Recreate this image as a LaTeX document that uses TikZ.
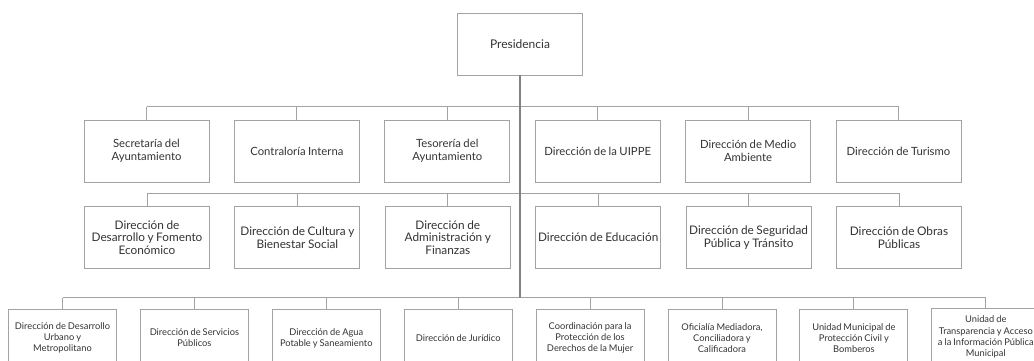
\documentclass[tikz,border=0pt]{standalone}
\usepackage{fontspec}
\setmainfont[WordSpace=0.85]{Lato}
\usepackage{tikz}
\usetikzlibrary{
  positioning
}
\definecolor{boxline}{HTML}{A3A3A3}
\definecolor{boxtext}{HTML}{333333}
\tikzset{
  x=1pt, y=-1pt,
  node distance=24.5pt,
  unit/.style={draw=boxline, line width=0.9pt, rectangle, minimum width=125pt,
    minimum height=62pt, align=center, inner sep=0pt,
    text=boxtext, font=\fontsize{11.3}{12.5}\selectfont},
  wide unit/.style={unit, font=\fontsize{11.8}{12.6}\selectfont},
  leaf/.style={unit, minimum width=108pt, minimum height=58pt,
    font=\fontsize{9.3}{11.1}\selectfont},
  link/.style={draw=boxline, line width=0.9pt},
  trunk/.style={draw=boxline!80!black, line width=1.2pt}
}

\begin{document}
\begin{tikzpicture}
    \useasboundingbox (0,0) rectangle (1034,360);
    \clip (0,0) rectangle (1034,360);

    \node[unit, font=\fontsize{12}{13}\selectfont] (pres) at (520,44) {Presidencia};

    \node[unit] (d1) at (146.5,151) {Secretaría del\\Ayuntamiento};
    \node[unit, right=of d1] (d2) {Contraloría Interna};
    \node[unit, right=of d2] (d3) {Tesorería del\\Ayuntamiento};
    \node[unit, right=of d3] (d4) {Dirección de la UIPPE};
    \node[unit, right=of d4] (d5) {Dirección de Medio\\Ambiente};
    \node[unit, right=of d5] (d6) {Dirección de Turismo};

    \node[wide unit] (e1) at (147,237.5) {Dirección de\\Desarrollo y Fomento\\Económico};
    \node[wide unit, right=of e1] (e2) {Dirección de Cultura y\\Bienestar Social};
    \node[wide unit, right=of e2] (e3) {Dirección de\\Administración y\\Finanzas};
    \node[wide unit, right=of e3] (e4) {Dirección de Educación};
    \node[wide unit, right=of e4] (e5) {Dirección de Seguridad\\Pública y Tránsito};
    \node[wide unit, right=of e5] (e6) {Dirección de Obras\\Públicas};

    \node[leaf] (u1) at (62.5,338) {Dirección de Desarrollo\\Urbano y\\Metropolitano};
    \node[leaf, right=23pt of u1] (u2) {Dirección de Servicios\\Públicos};
    \node[leaf, right=23pt of u2] (u3) {Dirección de Agua\\Potable y Saneamiento};
    \node[leaf, right=23pt of u3] (u4) {Dirección de Jurídico};
    \node[leaf, right=23pt of u4] (u5) {Coordinación para la\\Protección de los\\Derechos de la Mujer};
    \node[leaf, right=23pt of u5] (u6) {Oficialía Mediadora,\\Conciliadora y\\Calificadora};
    \node[leaf, right=23pt of u6] (u7) {Unidad Municipal de\\Protección Civil y\\Bomberos};
    \node[leaf, right=23pt of u7, yshift=1pt] (u8) {Unidad de\\Transparencia y Acceso\\a la Información Pública\\Municipal};

    % buses
    \draw[link] ([yshift=13pt]d1.north) -- ([yshift=13pt]d6.north);
    \draw[link] ([yshift=13pt]e1.north) -- ([yshift=13pt]e6.north);
    \draw[link] ([yshift=11pt]u1.north) -- ([yshift=11pt]u7.north -| u8.north);
    \foreach \n in {d1,d2,d3,d4,d5,d6,e1,e2,e3,e4,e5,e6}
      \draw[link] (\n.north) -- ++(0,13pt);
    \foreach \n in {u1,u2,u3,u4,u5,u6,u7}
      \draw[link] (\n.north) -- ++(0,11pt);
    \draw[link] (u8.north) -- ([yshift=11pt]u7.north -| u8.north);

    \draw[trunk] (pres.south) -- ([yshift=11pt]u1.north -| pres.south);
  \end{tikzpicture}
\end{document}
